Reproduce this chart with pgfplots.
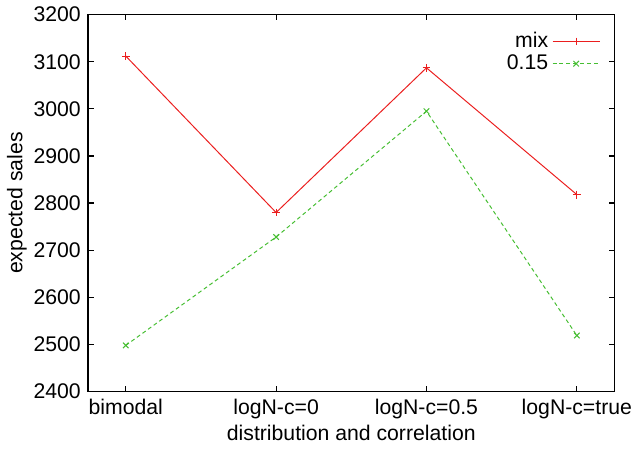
\documentclass[border=0pt]{standalone}
\usepackage{fontspec}
\setmainfont{Liberation Sans}
\usepackage{pgfplots}
\pgfplotsset{compat=1.18}
\definecolor{gpred}{RGB}{235,30,30}
\definecolor{gpgreen}{RGB}{70,190,50}
\begin{document}
\fontsize{10.8}{12}\selectfont
\begin{tikzpicture}
\begin{axis}[
  scale only axis,
  width=268pt, height=192pt,
  xmin=-0.25, xmax=3.25,
  ymin=2400, ymax=3200,
  ytick={2400,2500,...,3200},
  xtick={0,1,2,3},
  xticklabels={bimodal,logN-c=0,logN-c=0.5,logN-c=true},
  /pgf/number format/assume math mode=true,
  /pgf/number format/1000 sep={},
  tick align=inside,
  major tick length=3pt,
  tick style={black, line width=0.6pt},
  axis line style={line width=0.8pt},
  xlabel={distribution and correlation},
  ylabel={expected sales},
  xlabel style={yshift=4pt},
  ylabel style={yshift=-4pt},
  legend style={draw=none, fill=none, at={(0.985,0.975)}, anchor=north east, font=\fontsize{10.8}{12}\selectfont, row sep=-2pt},
  legend cell align=right,
  legend plot pos=right,
  legend image code/.code={\draw[mark repeat=2,mark phase=2,#1] plot coordinates {(0pt,0pt) (12pt,0pt) (24pt,0pt)};},
]
\addplot[gpred, line width=0.5pt, mark=+, mark size=2pt] coordinates {
  (0,3112) (1,2780) (2,3087) (3,2818)};
\addlegendentry{mix}
\addplot[gpgreen, line width=0.5pt, dash pattern=on 2pt off 1.5pt, mark=x, mark size=2pt, mark options={solid}] coordinates {
  (0,2498) (1,2728) (2,2995) (3,2519)};
\addlegendentry{0.15}
\end{axis}
\end{tikzpicture}
\end{document}
